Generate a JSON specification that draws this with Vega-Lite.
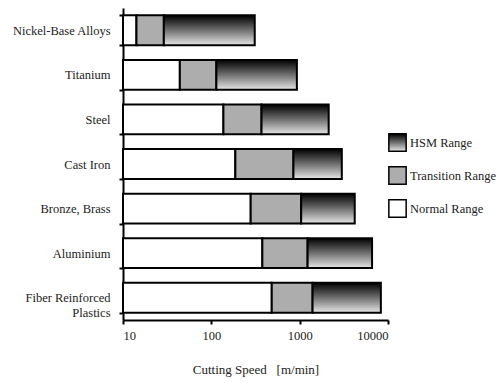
{
  "$schema": "https://vega.github.io/schema/vega-lite/v6.json",
  "autosize": "none",
  "padding": {"left": 123, "top": 8, "right": 111, "bottom": 63},
  "width": 265,
  "height": 312,
  "background": "white",
  "config": {
    "font": "DejaVu Serif",
    "view": {"stroke": null},
    "axis": {"labelColor": "#222", "titleColor": "#222", "domainColor": "black", "tickColor": "black", "domainWidth": 2, "tickWidth": 2, "grid": false}
  },
  "data": {
    "values": [
      {"material": "Nickel-Base Alloys", "range": "Normal Range", "start": 10, "end": 14.2},
      {"material": "Nickel-Base Alloys", "range": "Transition Range", "start": 14.2, "end": 29},
      {"material": "Nickel-Base Alloys", "range": "HSM Range", "start": 29, "end": 310},
      {"material": "Titanium", "range": "Normal Range", "start": 10, "end": 44},
      {"material": "Titanium", "range": "Transition Range", "start": 44, "end": 114},
      {"material": "Titanium", "range": "HSM Range", "start": 114, "end": 930},
      {"material": "Steel", "range": "Normal Range", "start": 10, "end": 137},
      {"material": "Steel", "range": "Transition Range", "start": 137, "end": 370},
      {"material": "Steel", "range": "HSM Range", "start": 370, "end": 2130},
      {"material": "Cast Iron", "range": "Normal Range", "start": 10, "end": 187},
      {"material": "Cast Iron", "range": "Transition Range", "start": 187, "end": 850},
      {"material": "Cast Iron", "range": "HSM Range", "start": 850, "end": 3000},
      {"material": "Bronze, Brass", "range": "Normal Range", "start": 10, "end": 279},
      {"material": "Bronze, Brass", "range": "Transition Range", "start": 279, "end": 1040},
      {"material": "Bronze, Brass", "range": "HSM Range", "start": 1040, "end": 4200},
      {"material": "Aluminium", "range": "Normal Range", "start": 10, "end": 378},
      {"material": "Aluminium", "range": "Transition Range", "start": 378, "end": 1230},
      {"material": "Aluminium", "range": "HSM Range", "start": 1230, "end": 6600},
      {"material": "Fiber Reinforced Plastics", "range": "Normal Range", "start": 10, "end": 483},
      {"material": "Fiber Reinforced Plastics", "range": "Transition Range", "start": 483, "end": 1400},
      {"material": "Fiber Reinforced Plastics", "range": "HSM Range", "start": 1400, "end": 8300}
    ]
  },
  "mark": {"type": "bar", "stroke": "black", "strokeWidth": 2, "opacity": 1},
  "encoding": {
    "y": {
      "field": "material",
      "type": "nominal",
      "sort": null,
      "scale": {"paddingInner": 0.33, "paddingOuter": 0.165},
      "axis": {
        "title": null,
        "tickBand": "extent",
        "tickSize": 4,
        "labelFont": "Liberation Serif",
        "labelFontSize": 12.5,
        "labelPadding": 9,
        "labelLimit": 200,
        "labelExpr": "datum.label == 'Fiber Reinforced Plastics' ? ['Fiber Reinforced', 'Plastics'] : datum.label"
      }
    },
    "x": {
      "field": "start",
      "type": "quantitative",
      "scale": {"type": "log", "domain": [10, 10000], "nice": false},
      "axis": {
        "title": "Cutting Speed\u00a0\u00a0 [m/min]",
        "titleFont": "Liberation Serif",
        "titleFontSize": 13,
        "titleFontWeight": "normal",
        "titlePadding": 22,
        "values": [10, 100, 1000, 10000],
        "format": "d",
        "tickSize": 4,
        "labelFont": "Liberation Serif",
        "labelFontSize": 12.5,
        "labelPadding": 5
      }
    },
    "x2": {"field": "end"},
    "color": {
      "field": "range",
      "type": "nominal",
      "scale": {
        "domain": ["Normal Range", "Transition Range", "HSM Range"],
        "range": [
          "#ffffff",
          "#adadad",
          {"expr": "{gradient: 'linear', x1: 0, y1: 0, x2: 0, y2: 1, stops: [{offset: 0, color: '#000000'}, {offset: 0.5, color: '#707070'}, {offset: 1, color: '#e6e6e6'}]}"}
        ]
      },
      "legend": {
        "title": null,
        "values": ["HSM Range", "Transition Range", "Normal Range"],
        "orient": "none",
        "legendX": 265,
        "legendY": 125,
        "symbolType": "square",
        "symbolSize": 300,
        "symbolOpacity": 1,
        "rowPadding": 8,
        "labelFont": "Liberation Serif",
        "labelFontSize": 12.5,
        "labelColor": "#222",
        "labelOffset": 3,
        "labelLimit": 200,
        "encode": {
          "symbols": {
            "update": {
              "stroke": {"value": "black"},
              "strokeWidth": {"value": 2}
            }
          }
        }
      }
    }
  }
}
